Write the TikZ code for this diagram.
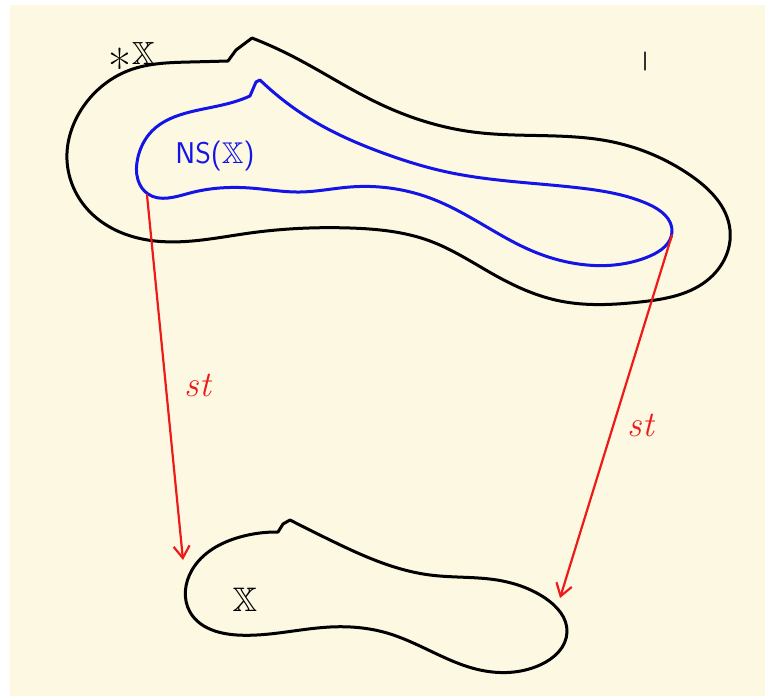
\documentclass[tikz,border=0pt]{standalone}
\usepackage{amsmath}
\usepackage{amssymb}
\usepackage{xcolor}
\usepackage{tikz}
\usetikzlibrary{arrows.meta, hobby}
\definecolor{paperColor}{HTML}{FDF8E1}
\definecolor{inkBlue}{HTML}{1414E6}
\definecolor{inkRed}{HTML}{EE1A1A}

\begin{document}
\begin{tikzpicture}[x=1pt, y=-1pt, line cap=round, line join=round, use Hobby shortcut]
    \useasboundingbox (0,0) rectangle (765,696);
    \fill[white] (0,0) rectangle (765,696);
    \fill[paperColor] (10,5) rectangle (765,696);
    % outer region
    \draw[line width=3pt] (252,38) .. (290,55) .. (380,104) .. (473,132) .. (613,142) .. (690,175) .. (730,230) .. (710,278) .. (640,302) .. (560,301) .. (500,278) .. (430,241) .. (350,228) .. (250,233) .. (155,241) .. (90,212) .. (67,160) .. (83,107) .. (130,70) .. (190,62) .. (228,61) -- (236,50) -- (252,38);
    % near-standard part
    \draw[inkBlue, line width=3pt] (260,80) .. (317,123) .. (383,153) .. (447,172) .. (580,188) .. (648,204) .. (672,232) .. (650,256) .. (587,265) .. (530,250) .. (480,223) .. (430,198) .. (350,187) .. (300,192) .. (250,188) .. (190,193) .. (148,194) .. (138,180) .. (138,157) .. (152,131) .. (190,112) .. (237,101) .. (250,96) -- (256,82) -- (260,80);
    % lower region
    \draw[line width=3pt] (290,520) .. (330,540) .. (430,575) .. (497,580) .. (545,598) .. (567,632) .. (540,665) .. (480,670) .. (387,633) .. (330,627) .. (237,635) .. (190,612) .. (192,570) .. (240,537) .. (278,532) -- (283,524) -- (290,520);
    \draw[line width=1.2pt, black!80] (645,52) -- (645,70);
    \coordinate (nsleft) at (147,195);
    \coordinate (nsright) at (672,235);
    \coordinate (xleft) at (183,560);
    \coordinate (xright) at (560,598);
    \node[font=\fontsize{32}{32}\selectfont] (starX) at (132,64) {{\fontsize{50}{50}\selectfont\raisebox{-0.42em}{*}}$\mathbb{X}$};
    \node[inkBlue, font=\fontsize{30}{30}\selectfont\sffamily] (nslabel) at (215,156) {NS($\mathbb{X}$)};
    \node[font=\fontsize{34}{34}\selectfont] (xlabel) at (245,600) {$\mathbb{X}$};
    \draw[inkRed, line width=2.2pt, -{Straight Barb[length=12pt, width=16pt]}] (nsleft) -- (xleft);
    \draw[inkRed, line width=2.2pt, -{Straight Barb[length=12pt, width=16pt]}] (nsright) -- (xright);
    \node[inkRed, font=\fontsize{36}{36}\selectfont\itshape] (stleft) at (198,385) {st};
    \node[inkRed, font=\fontsize{36}{36}\selectfont\itshape] (stright) at (641,425) {st};
\end{tikzpicture}
\end{document}
